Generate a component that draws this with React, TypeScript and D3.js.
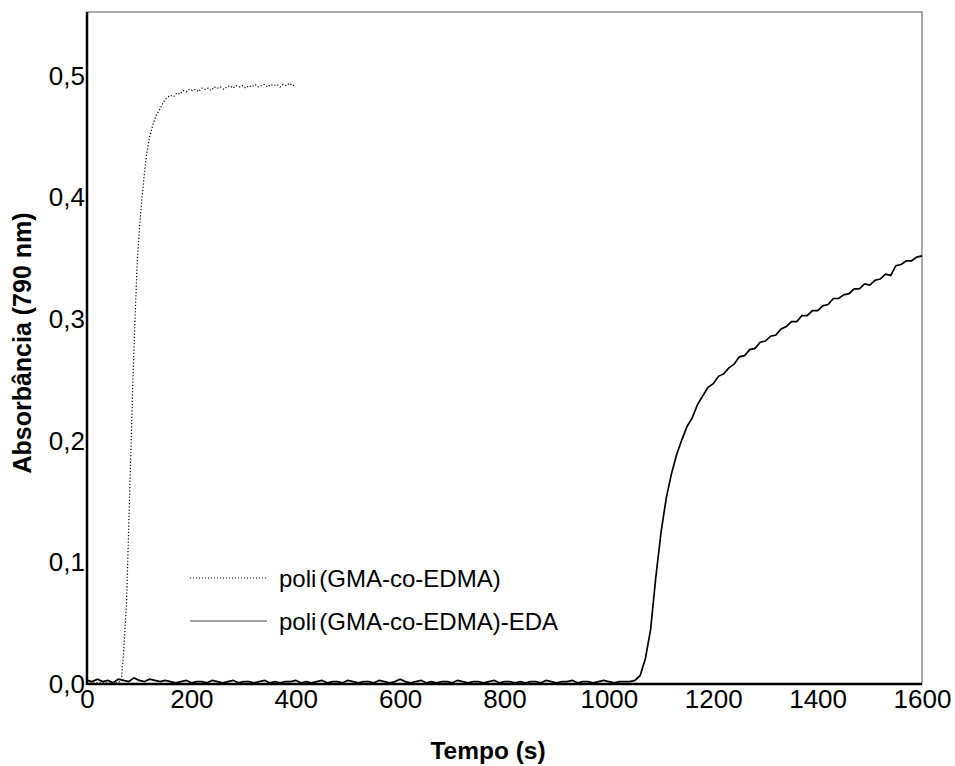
import React, { useEffect, useRef } from "react";
import * as d3 from "d3";

// poli(GMA-co-EDMA): [tempo (s), absorbância]
const gmaSeries: [number, number][] = [
  [0, 0.001], [20, 0.001], [40, 0.001], [60, 0.001], [66, 0.004], [70, 0.025], [73, 0.047],
  [76, 0.069], [80, 0.13], [84, 0.19], [88, 0.25], [92, 0.3], [96, 0.345], [100, 0.372],
  [105, 0.398], [110, 0.42], [115, 0.438], [120, 0.45], [127, 0.461], [133, 0.468],
  [140, 0.473], [147, 0.479], [153, 0.482], [160, 0.484], [166, 0.483], [172, 0.486],
  [178, 0.485], [184, 0.488], [190, 0.487], [196, 0.489], [202, 0.488], [208, 0.489],
  [214, 0.487], [220, 0.49], [226, 0.489], [232, 0.49], [238, 0.488], [244, 0.491],
  [250, 0.49], [256, 0.491], [262, 0.489], [268, 0.491], [274, 0.492], [280, 0.49],
  [286, 0.492], [292, 0.491], [298, 0.492], [304, 0.49], [310, 0.492], [316, 0.491],
  [322, 0.493], [328, 0.491], [334, 0.492], [340, 0.493], [346, 0.491], [352, 0.493],
  [358, 0.492], [364, 0.493], [370, 0.491], [376, 0.493], [382, 0.492], [388, 0.494],
  [394, 0.492], [400, 0.493],
];

// poli(GMA-co-EDMA)-EDA, sampled every 10 s from 0 to 1600 s
const edaStep = 10;
const edaValues: number[] = [
  // 0 - 150
  0.003, 0.002, 0.004, 0.002, 0.003, 0.001, 0.004, 0.003, 0.002, 0.005, 0.003, 0.002, 0.004, 0.003, 0.002, 0.003,
  // 160 - 950
  0.002, 0.001, 0.002, 0.003, 0.001, 0.002, 0.002, 0.001, 0.003, 0.002,
  0.001, 0.002, 0.003, 0.001, 0.002, 0.002, 0.001, 0.002, 0.003, 0.001,
  0.002, 0.001, 0.002, 0.002, 0.003, 0.001, 0.002, 0.001, 0.002, 0.003,
  0.001, 0.002, 0.002, 0.001, 0.003, 0.002, 0.001, 0.002, 0.002, 0.001,
  0.003, 0.002, 0.001, 0.002, 0.004, 0.002, 0.001, 0.002, 0.003, 0.001,
  0.002, 0.001, 0.002, 0.002, 0.001, 0.003, 0.002, 0.001, 0.002, 0.002,
  0.001, 0.002, 0.003, 0.001, 0.002, 0.002, 0.001, 0.002, 0.001, 0.002,
  0.002, 0.001, 0.003, 0.002, 0.001, 0.002, 0.002, 0.003, 0.001, 0.002,
  // 960 - 1040
  0.002, 0.001, 0.002, 0.003, 0.002, 0.001, 0.002, 0.002, 0.002,
  // 1050 - 1600
  0.003, 0.007, 0.021, 0.045, 0.088, 0.125, 0.153, 0.173, 0.189, 0.201,
  0.212, 0.219, 0.23, 0.237, 0.244, 0.247, 0.253, 0.255, 0.26, 0.263,
  0.269, 0.27, 0.275, 0.276, 0.281, 0.282, 0.286, 0.287, 0.292, 0.294,
  0.298, 0.298, 0.303, 0.303, 0.307, 0.307, 0.311, 0.312, 0.317, 0.317,
  0.32, 0.321, 0.325, 0.325, 0.329, 0.328, 0.332, 0.333, 0.337, 0.336,
  0.344, 0.345, 0.348, 0.348, 0.351, 0.352,
];

const xTicks = [0, 200, 400, 600, 800, 1000, 1200, 1400, 1600];
const yTicks = [0, 0.1, 0.2, 0.3, 0.4, 0.5];
const legendLabels = ["poli(GMA-co-EDMA)", "poli(GMA-co-EDMA)-EDA"];

function App() {
  const ref = useRef<SVGSVGElement>(null);

  useEffect(() => {
    const svg = d3.select(ref.current);
    svg.selectAll("*").remove();

    const left = 87, right = 922, top = 12, bottom = 684;
    const x = d3.scaleLinear().domain([0, 1600]).range([left, right]);
    const y = d3.scaleLinear().domain([0, 0.5526]).range([bottom, top]);
    const font = "Liberation Sans, Arial, sans-serif";

    // frame: thin grey top/right
    svg.append("rect")
      .attr("x", left).attr("y", top)
      .attr("width", right - left).attr("height", bottom - top)
      .attr("fill", "none").attr("stroke", "#555").attr("stroke-width", 1);

    const line = d3.line<[number, number]>().x(d => x(d[0])).y(d => y(d[1]));

    const eda: [number, number][] = edaValues.map((v, i) => [i * edaStep, v]);

    svg.append("path")
      .datum(eda)
      .attr("d", line)
      .attr("fill", "none").attr("stroke", "#000").attr("stroke-width", 1.7);

    svg.append("path")
      .datum(gmaSeries)
      .attr("d", line)
      .attr("fill", "none").attr("stroke", "#000").attr("stroke-width", 1.2)
      .attr("stroke-dasharray", "1.2,2");

    // thick left / bottom axis lines
    svg.append("line").attr("x1", left).attr("x2", left).attr("y1", top).attr("y2", bottom + 1)
      .attr("stroke", "#000").attr("stroke-width", 2.5);
    svg.append("line").attr("x1", left).attr("x2", right).attr("y1", bottom).attr("y2", bottom)
      .attr("stroke", "#000").attr("stroke-width", 2.5);

    const fmt = (d: number) => d3.format(".1f")(d).replace(".", ",");

    const gx = svg.append("g").attr("transform", `translate(0,${bottom})`)
      .call(d3.axisBottom(x).tickValues(xTicks).tickSize(0).tickPadding(6).tickFormat(d => String(d)));
    gx.select(".domain").remove();
    gx.selectAll("text").attr("font-size", 26).attr("font-family", font).attr("fill", "#000");

    const gy = svg.append("g").attr("transform", `translate(${left},0)`)
      .call(d3.axisLeft(y).tickValues(yTicks).tickSize(0).tickPadding(2).tickFormat(d => fmt(d as number)));
    gy.select(".domain").remove();
    gy.selectAll("text").attr("font-size", 26).attr("font-family", font).attr("fill", "#000");

    svg.append("text")
      .attr("transform", "translate(31,343) rotate(-90)")
      .attr("text-anchor", "middle")
      .attr("font-family", font).attr("font-weight", "bold").attr("font-size", 25)
      .text("Absorbância (790 nm)");

    svg.append("text")
      .attr("x", 488).attr("y", 759)
      .attr("text-anchor", "middle")
      .attr("font-family", font).attr("font-weight", "bold").attr("font-size", 24.5)
      .text("Tempo (s)");

    // legend
    const legendY = [578, 621];
    legendLabels.forEach((label, i) => {
      svg.append("line")
        .attr("x1", 190).attr("x2", 267).attr("y1", legendY[i]).attr("y2", legendY[i])
        .attr("stroke", i === 0 ? "#000" : "#444").attr("stroke-width", 1)
        .attr("stroke-dasharray", i === 0 ? "1,2" : null);
      const t = svg.append("text")
        .attr("x", 279).attr("y", legendY[i] + 9)
        .attr("font-family", font).attr("font-size", 24).attr("fill", "#000");
      t.append("tspan").text("poli");
      t.append("tspan").attr("dx", 3).text(label.slice(4));
    });
  }, []);

  return (
    <svg ref={ref} width={955} height={766}
      style={{ position: "absolute", left: 0, top: 0, background: "#fff" }} />
  );
}

export default App;
